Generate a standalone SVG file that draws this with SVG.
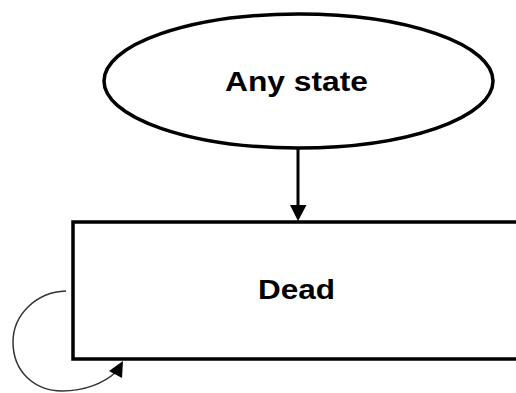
<svg xmlns="http://www.w3.org/2000/svg" width="516" height="393" viewBox="0 0 516 393">
<style>
.shape{fill:#fff;stroke:#000;stroke-width:3.5}
.lbl{font-family:"Liberation Sans",Arial,sans-serif;font-weight:bold;font-size:27px;fill:#000;text-anchor:middle}
</style>
<rect width="516" height="393" fill="#fff"/>
<g id="any-state">
<ellipse class="shape" cx="298.5" cy="81" rx="194.5" ry="67" stroke-width="3"/>
<text class="lbl" x="296.5" y="91" textLength="143" lengthAdjust="spacingAndGlyphs">Any state</text>
</g>
<g id="dead">
<rect class="shape" x="73" y="222" width="460" height="137" stroke-width="4"/>
<text class="lbl" x="296.5" y="299" textLength="77" lengthAdjust="spacingAndGlyphs">Dead</text>
</g>
<g id="connectors">
<line x1="298" y1="148" x2="298" y2="206" stroke="#000" stroke-width="3"/>
<polygon points="290,205 306.5,205 298,221" fill="#000"/>
<path d="M66,291 C36,292 13,315 13,342 C13,372 35,391 62,391 C85,391 104,383 116,372" fill="none" stroke="#333" stroke-width="1.5"/>
<polygon points="123,361 109,371 122,378" fill="#000"/>
</g>
</svg>
